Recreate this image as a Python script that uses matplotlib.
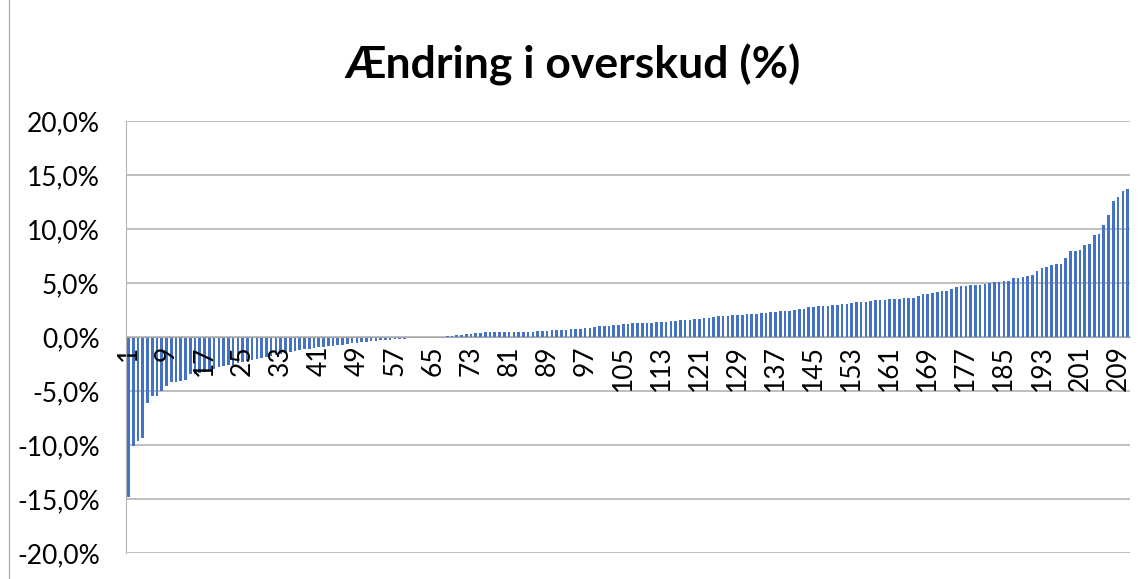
import matplotlib.pyplot as plt
from matplotlib.lines import Line2D
from matplotlib.ticker import FuncFormatter

plt.rcParams['font.family'] = ['Lato', 'DejaVu Sans']

# change in profit (%), sorted ascending, one bar per unit
values = [
    -14.8, -10.1, -9.6, -9.4, -6.1, -5.5, -5.5, -5.0, -4.5, -4.2,
    -4.15, -4.1, -4.0, -3.45, -3.4, -3.35, -3.2, -3.1, -2.95, -2.8,
    -2.7, -2.6, -2.55, -2.45, -2.35, -2.2, -2.1, -2.0, -1.95, -1.85,
    -1.75, -1.65, -1.55, -1.5, -1.4, -1.3, -1.25, -1.15, -1.1, -1.0,
    -0.95, -0.9, -0.85, -0.8, -0.75, -0.7, -0.65, -0.6, -0.55, -0.5,
    -0.45, -0.4, -0.35, -0.3, -0.28, -0.25, -0.2, -0.18, -0.15, -0.12,
    -0.1, -0.08, -0.05, -0.03, -0.01, 0.02, 0.04, 0.08, 0.12, 0.17,
    0.2, 0.24, 0.28, 0.35, 0.4, 0.44, 0.45, 0.46, 0.46, 0.47,
    0.47, 0.48, 0.48, 0.49, 0.5, 0.5, 0.52, 0.54, 0.58, 0.6,
    0.62, 0.63, 0.65, 0.7, 0.73, 0.77, 0.8, 0.85, 0.95, 0.98,
    1.0, 1.05, 1.1, 1.15, 1.2, 1.22, 1.25, 1.28, 1.3, 1.32,
    1.33, 1.35, 1.36, 1.4, 1.45, 1.52, 1.55, 1.58, 1.6, 1.65,
    1.68, 1.72, 1.8, 1.88, 1.92, 1.95, 1.98, 2.0, 2.02, 2.05,
    2.1, 2.12, 2.15, 2.2, 2.25, 2.3, 2.35, 2.4, 2.42, 2.45,
    2.5, 2.55, 2.62, 2.75, 2.8, 2.85, 2.88, 2.9, 2.95, 3.0,
    3.05, 3.1, 3.15, 3.2, 3.22, 3.28, 3.33, 3.38, 3.42, 3.45,
    3.5, 3.52, 3.55, 3.6, 3.62, 3.65, 3.8, 3.95, 3.98, 4.07,
    4.14, 4.26, 4.3, 4.47, 4.6, 4.69, 4.75, 4.81, 4.82, 4.84,
    4.94, 5.0, 5.09, 5.12, 5.17, 5.2, 5.5, 5.5, 5.6, 5.65,
    5.77, 6.14, 6.36, 6.5, 6.67, 6.73, 6.75, 7.3, 7.93, 7.95,
    8.1, 8.5, 8.58, 9.4, 9.5, 10.4, 11.27, 12.6, 12.96, 13.5,
    13.7,
]
categories = list(range(1, len(values) + 1))
label_cats = categories[::8]
yticks = [-20, -15, -10, -5, 0, 5, 10, 15, 20]

fig = plt.figure(figsize=(11.46, 5.79), dpi=100)
ax = fig.add_axes([0.110, 0.045, 0.876, 0.746])

for t in yticks:
    ax.axhline(t, color='#B4B4B4', lw=1.2, zorder=0)

ax.bar(categories, values, width=0.55, color='#4472C4', zorder=1)

ax.set_xlim(0.5, len(values) + 0.5)
ax.set_ylim(-20, 20)
ax.set_yticks(yticks)
ax.yaxis.set_major_formatter(FuncFormatter(lambda v, p: ('%.1f%%' % v).replace('.', ',')))
ax.tick_params(axis='y', length=0, pad=19, labelsize=19, labelcolor='black')

ax.spines['bottom'].set_position(('data', 0))
ax.spines['bottom'].set_color('#A6A6A6')
ax.spines['left'].set_color('#B4B4B4')
ax.spines['top'].set_visible(False)
ax.spines['right'].set_visible(False)
ax.set_xticks(label_cats)
ax.set_xticklabels([str(c) for c in label_cats], rotation=90)
ax.tick_params(axis='x', length=0, pad=6, labelsize=19, labelcolor='black')

fig.text(0.5, 0.888, 'Ændring i overskud (%)', fontsize=32, fontweight='bold',
         ha='center', va='center')

fig.add_artist(Line2D([0.008, 0.008], [0, 1], transform=fig.transFigure, color='#B4B4B4', lw=1))

plt.savefig('out.png', dpi=100)
plt.close('all')
